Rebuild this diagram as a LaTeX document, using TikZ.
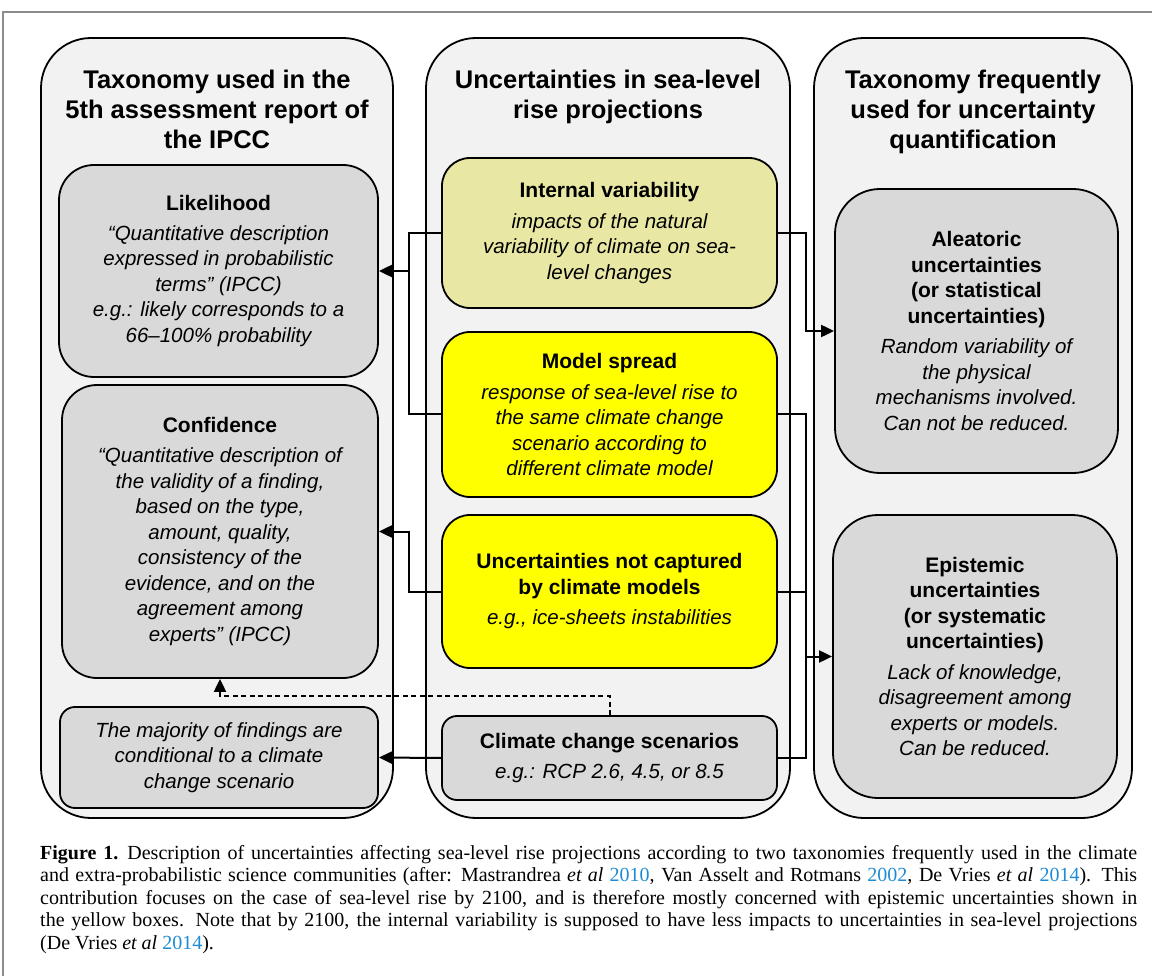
\documentclass[tikz,border=0pt]{standalone}
\usepackage{fontspec}
\setmainfont{Liberation Sans}
\newfontfamily\capfont{Liberation Serif}
\usetikzlibrary{arrows.meta}
\definecolor{colfill}{HTML}{F2F2F2}
\definecolor{boxgray}{HTML}{D9D9D9}
\definecolor{khaki}{HTML}{E8E8A4}
\definecolor{yel}{HTML}{FFFF00}
\definecolor{citeblue}{HTML}{1E8CD2}
\definecolor{framegray}{HTML}{8C8C8C}
\newcommand{\bt}[1]{{\fontsize{21}{25.5}\selectfont\bfseries #1}}
\newcommand{\itx}[1]{{\fontsize{20.5}{25.5}\selectfont\itshape #1}}
\tikzset{
  colbox/.style={draw, line width=1.8pt, fill=colfill, rounded corners=50pt, inner sep=0pt},
  ibox/.style={draw, line width=1.8pt, align=center, inner sep=0pt,
    font=\fontsize{20.5}{25.5}\selectfont},
  coltitle/.style={align=center, inner sep=0pt, font=\bfseries\fontsize{25.5}{30}\selectfont},
  conn/.style={line width=2pt, black},
  arr/.style={-{Triangle[length=13pt,width=12pt]}},
  dashline/.style={dash pattern=on 5pt off 3.5pt}
}
\begin{document}
\begin{tikzpicture}[x=1pt,y=-1pt]
\useasboundingbox (0,0) rectangle (1152,976);
\fill[white] (0,0) rectangle (1152,976);
\draw[framegray, line width=1.5pt] (3,976) -- (3,12) -- (1152,12);

% columns
\node[colbox, minimum width=352pt, minimum height=780pt] (col1) at (217,428) {};
\node[colbox, minimum width=364pt, minimum height=780pt] (col2) at (608,428) {};
\node[colbox, minimum width=318pt, minimum height=780pt] (col3) at (973,428) {};

% column titles
\node[coltitle, anchor=north] (t1) at (217,70) {Taxonomy used in the\\5th assessment report of\\the IPCC};
\node[coltitle, anchor=north] (t2) at (608,70) {Uncertainties in sea-level\\rise projections};
\node[coltitle, anchor=north] (t3) at (973,70) {Taxonomy frequently\\used for uncertainty\\quantification};

% left column boxes
\node[ibox, fill=boxgray, rounded corners=35pt, minimum width=319pt, minimum height=212pt] (lik) at (218.5,271)
 {\bt{Likelihood}\\[4.5pt]\itx{“Quantitative description}\\\itx{expressed in probabilistic}\\\itx{terms” (IPCC)}\\\itx{e.g.: likely corresponds to a}\\\itx{66–100\% probability}};
\node[ibox, fill=boxgray, rounded corners=35pt, minimum width=316pt, minimum height=293pt] (conf) at (220,531.5)
 {\bt{Confidence}\\[4.5pt]\itx{“Quantitative description of}\\\itx{the validity of a finding,}\\\itx{based on the type,}\\\itx{amount, quality,}\\\itx{consistency of the}\\\itx{evidence, and on the}\\\itx{agreement among}\\\itx{experts” (IPCC)}};
\node[ibox, fill=boxgray, rounded corners=15pt, minimum width=318pt, minimum height=101pt] (maj) at (219,757.5)
 {\itx{The majority of findings are}\\\itx{conditional to a climate}\\\itx{change scenario}};

% middle column boxes
\node[ibox, fill=khaki, rounded corners=28pt, minimum width=335pt, minimum height=150pt] (iv) at (609.5,233)
 {\bt{Internal variability}\\[5pt]\itx{impacts of the natural}\\\itx{variability of climate on sea-}\\\itx{level changes}};
\node[ibox, fill=yel, rounded corners=28pt, minimum width=335pt, minimum height=165pt] (ms) at (609.5,414.5)
 {\bt{Model spread}\\[5pt]\itx{response of sea-level rise to}\\\itx{the same climate change}\\\itx{scenario according to}\\\itx{different climate model}};
\node[ibox, fill=yel, rounded corners=28pt, minimum width=335pt, minimum height=153pt] (nc) at (609.5,591.5)
 {\bt{Uncertainties not captured}\\\bt{by climate models}\\[5pt]\itx{e.g., ice-sheets instabilities}};
\node[ibox, fill=boxgray, rounded corners=15pt, minimum width=335pt, minimum height=84pt] (cc) at (609.5,758)
 {\bt{Climate change scenarios}\\[5pt]\itx{e.g.: RCP 2.6, 4.5, or 8.5}};

% right column boxes
\node[ibox, fill=boxgray, rounded corners=45pt, minimum width=283pt, minimum height=284pt] (ale) at (976.5,331)
 {\bt{Aleatoric}\\\bt{uncertainties}\\\bt{(or statistical}\\\bt{uncertainties)}\\[5pt]\itx{Random variability of}\\\itx{the physical}\\\itx{mechanisms involved.}\\\itx{Can not be reduced.}};
\node[ibox, fill=boxgray, rounded corners=45pt, minimum width=284pt, minimum height=283pt] (epi) at (975,656.5)
 {\bt{Epistemic}\\\bt{uncertainties}\\\bt{(or systematic}\\\bt{uncertainties)}\\[5pt]\itx{Lack of knowledge,}\\\itx{disagreement among}\\\itx{experts or models.}\\\itx{Can be reduced.}};

% connectors
\coordinate (xL) at (409,0);
\coordinate (xR) at (806,0);
\coordinate (dy) at (0,696);
\draw[conn] (iv.west) -- (iv.west -| xL) |- (ms.west);
\draw[conn,arr] (xL |- lik.east) -- (lik.east);
\draw[conn,arr] (nc.west) -- (nc.west -| xL) |- (conf.east);
\draw[conn,arr] (cc.west) -- (maj.east);
\draw[conn,arr] (iv.east) -- (iv.east -| xR) |- (ale.west);
\draw[conn] (ms.east) -- (ms.east -| xR) |- (cc.east);
\draw[conn] (nc.east) -- (nc.east -| xR);
\draw[conn,arr] (xR |- epi.west) -- (epi.west);
\draw[conn,dashline,arr] (cc.north) -- (cc.north |- dy) -- (conf.south |- dy) -- (conf.south);

% caption
\node[anchor=north west, inner sep=0pt, text width=1097pt, align=justify,
      font=\capfont\fontsize{20}{22.5}\selectfont] (cap) at (40,845)
 {\tolerance=9999\hyphenpenalty=10000\textbf{Figure 1.}\hspace{0.45em}Description of uncertainties affecting sea-level rise projections according to two taxonomies frequently used in the climate\linebreak
 and extra-probabilistic science communities (after: Mastrandrea \textit{et al} \textcolor{citeblue}{2010}, Van Asselt and Rotmans \textcolor{citeblue}{2002}, De Vries \textit{et al} \textcolor{citeblue}{2014}). This\linebreak
 contribution focuses on the case of sea-level rise by 2100, and is therefore mostly concerned with epistemic uncertainties shown in\linebreak
 the yellow boxes. Note that by 2100, the internal variability is supposed to have less impacts to uncertainties in sea-level projections\linebreak
 (De Vries \textit{et al} \textcolor{citeblue}{2014}).};
\end{tikzpicture}
\end{document}
